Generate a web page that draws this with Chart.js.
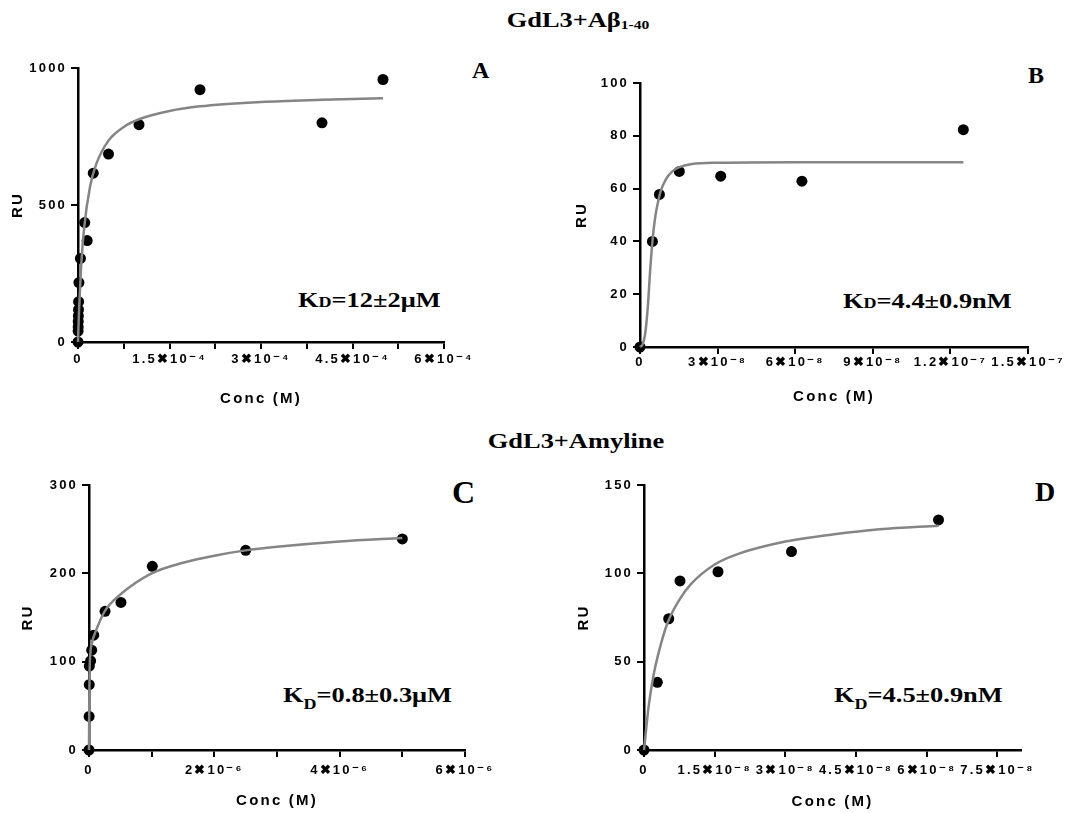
<!DOCTYPE html>
<html>
<head>
<meta charset="utf-8">
<script src="https://cdn.jsdelivr.net/npm/chart.js@4.4.1/dist/chart.umd.min.js"></script>
<style>
  body { margin:0; background:#fff; width:1089px; height:813px; position:relative; overflow:hidden; }
  .txt { position:absolute; font-family:"Liberation Serif","Times New Roman",serif; font-weight:bold; color:#000; white-space:nowrap; line-height:1; }
  .ttl { transform-origin:center; transform:translateX(-50%) scaleX(1.2); }
  .kd  { transform-origin:left; transform:scaleX(1.2); }
  .sub40 { font-size:13px; vertical-align:-2px; }
  .subA  { font-size:15px; vertical-align:0; }
  .subC  { font-size:15px; vertical-align:-7px; }
</style>
</head>
<body>

<div class="txt ttl" style="left:578px;top:8.6px;font-size:22px">GdL3+Aβ<span class="sub40">1-40</span></div>
<div class="txt ttl" style="left:576px;top:429.6px;font-size:22px">GdL3+Amyline</div>

<div class="txt" style="left:472px;top:57.9px;font-size:24px">A</div>
<div class="txt" style="left:1028px;top:62.9px;font-size:24px">B</div>
<div class="txt" style="left:452px;top:476px;font-size:32px">C</div>
<div class="txt" style="left:1035px;top:477.5px;font-size:28px">D</div>

<div class="txt kd" style="left:298px;top:288.6px;font-size:22px">K<span class="subA">D</span>=12±2μM</div>
<div class="txt kd" style="left:843px;top:289.6px;font-size:22px">K<span class="subA">D</span>=4.4±0.9nM</div>
<div class="txt kd" style="left:283px;top:683.6px;font-size:22px">K<span class="subC">D</span>=0.8±0.3μM</div>
<div class="txt kd" style="left:834px;top:683.6px;font-size:22px">K<span class="subC">D</span>=4.5±0.9nM</div>

<script>
// ── Data ──────────────────────────────────────────────────────
// A: GdL3 + Aβ1-40 (μM range)
const concA    = [0, 2e-7, 3e-7, 4e-7, 6e-7, 8e-7, 1e-6, 1.5e-6, 4e-6, 1.1e-5, 1.5e-5, 2.5e-5, 5e-5, 1e-4, 2e-4, 4e-4, 5e-4];
const ruA      = [0, 40, 55, 75, 95, 118, 147, 217, 305, 436, 370, 616, 686, 793, 921, 800, 958];
const fitConcA = [0, 1e-6, 2e-6, 5e-6, 1e-5, 2e-5, 3e-5, 5e-5, 7.5e-5, 1e-4, 1.5e-4, 2e-4, 3e-4, 4e-4, 5e-4];
const fitRuA   = [0, 70, 130, 270, 415, 570, 650, 735, 785, 813, 843, 860, 876, 884, 890];
const xTicksA  = [0, 0.75e-4, 1.5e-4, 2.25e-4, 3e-4, 3.75e-4, 4.5e-4, 5.25e-4, 6e-4];
const xLabelsA = ['0', '', '1.5✖10⁻⁴', '', '3✖10⁻⁴', '', '4.5✖10⁻⁴', '', '6✖10⁻⁴'];
const yTicksA  = [0, 500, 1000];

// B: GdL3 + Aβ1-40 (nM range)
const concB    = [0, 4.8e-9, 7.5e-9, 1.52e-8, 3.12e-8, 6.26e-8, 1.25e-7];
const ruB      = [0, 40.0, 57.8, 66.5, 64.7, 62.8, 82.3];
const fitConcB = [0, 1e-9, 2e-9, 3e-9, 4e-9, 5e-9, 6e-9, 7e-9, 8e-9, 1e-8, 1.25e-8, 1.5e-8, 2e-8, 3e-8, 6e-8, 1.25e-7];
const fitRuB   = [0, 1, 5, 15, 30, 42, 50, 55, 59, 63.5, 66.5, 68, 69.3, 69.8, 70, 70];
const xTicksB  = [0, 3e-8, 6e-8, 9e-8, 1.2e-7, 1.5e-7];
const xLabelsB = ['0', '3✖10⁻⁸', '6✖10⁻⁸', '9✖10⁻⁸', '1.2✖10⁻⁷', '1.5✖10⁻⁷'];
const yTicksB  = [0, 20, 40, 60, 80, 100];

// C: GdL3 + Amyline (μM range)
const concC    = [0, 2e-9, 4e-9, 5e-9, 2.6e-8, 4.3e-8, 7.5e-8, 2.56e-7, 5.1e-7, 1.01e-6, 2.5e-6, 5e-6];
const ruC      = [0, 38, 74, 95, 101, 113, 130, 157, 167, 208, 226, 239];
const fitConcC = [0, 5e-9, 1e-8, 2e-8, 5e-8, 1e-7, 2.5e-7, 5e-7, 1e-6, 1.5e-6, 2e-6, 2.5e-6, 3e-6, 4e-6, 5e-6];
const fitRuC   = [0, 60, 90, 108, 122, 133, 157, 176, 200, 212, 220, 226, 230, 236, 240];
const xTicksC  = [0, 1e-6, 2e-6, 3e-6, 4e-6, 5e-6, 6e-6];
const xLabelsC = ['0', '', '2✖10⁻⁶', '', '4✖10⁻⁶', '', '6✖10⁻⁶'];
const yTicksC  = [0, 100, 200, 300];

// D: GdL3 + Amyline (nM range)
const concD    = [0, 2.83e-9, 5.24e-9, 7.64e-9, 1.57e-8, 3.13e-8, 6.25e-8];
const ruD      = [0, 38.3, 74.3, 95.7, 100.9, 112.3, 130.2];
const fitConcD = [0, 1e-9, 2e-9, 3e-9, 5e-9, 7.5e-9, 1e-8, 1.5e-8, 2e-8, 3e-8, 4e-8, 5e-8, 6.25e-8];
const fitRuD   = [0, 25, 42, 54, 72, 85, 94, 105, 111, 118, 122, 125, 127];
const xTicksD  = [0, 1.5e-8, 3e-8, 4.5e-8, 6e-8, 7.5e-8];
const xLabelsD = ['0', '1.5✖10⁻⁸', '3✖10⁻⁸', '4.5✖10⁻⁸', '6✖10⁻⁸', '7.5✖10⁻⁸'];
const yTicksD  = [0, 50, 100, 150];

// ── Styling ───────────────────────────────────────────────────
const SANS       = "'Liberation Sans', Arial, sans-serif";
const TICK_FONT  = { family: SANS, size: 13, weight: 'bold' };
const AXIS_FONT  = { family: SANS, size: 15, weight: 'bold' };

// GraphPad-style widely spaced axis text
const spacing = {
  id: 'spacing',
  beforeLayout(chart) { chart.ctx.letterSpacing = '2.2px'; },
  beforeDraw(chart)   { chart.ctx.letterSpacing = '2.2px'; },
};

const pairs = (xs, ys) => xs.map((x, i) => ({ x, y: ys[i] }));

// ── One panel = one canvas; plot area pinned to page coords ──
function makePanel(p) {
  const lh        = AXIS_FONT.size * 1.2;
  const padLeft   = p.ruX - lh / 2 - p.box.left;
  const yWidth    = p.area.l - p.box.left - padLeft;
  const xHeight   = p.concY + lh / 2 - p.area.b;
  const padBottom = p.box.top + p.box.h - p.area.b - xHeight;

  const canvas = document.createElement('canvas');
  canvas.width  = p.box.w;
  canvas.height = p.box.h;
  Object.assign(canvas.style, { position: 'absolute', left: p.box.left + 'px', top: p.box.top + 'px' });
  document.body.appendChild(canvas);

  return new Chart(canvas.getContext('2d'), {
    type: 'scatter',
    data: {
      datasets: [
        {
          data: pairs(p.fitX, p.fitY),
          showLine: true, pointRadius: 0,
          borderColor: '#858585', borderWidth: 2.5,
          cubicInterpolationMode: 'monotone', clip: false,
        },
        {
          data: pairs(p.x, p.y),
          pointRadius: 5.5, backgroundColor: '#000', borderColor: '#000', borderWidth: 0,
          clip: false,
        },
      ],
    },
    options: {
      responsive: false, animation: false, events: [],
      layout: {
        padding: {
          left: padLeft,
          top: p.area.t - p.box.top,
          right: p.box.left + p.box.w - p.area.r,
          bottom: padBottom,
        },
      },
      plugins: { legend: { display: false }, tooltip: { enabled: false } },
      scales: {
        x: {
          type: 'linear', min: 0, max: p.xMax,
          afterBuildTicks: s => { s.ticks = p.xTicks.map(v => ({ value: v })); },
          afterFit: s => { s.height = xHeight; },
          ticks: { callback: (v, i) => p.xLabels[i], font: TICK_FONT, color: '#000',
                   padding: p.xPad, autoSkip: false, maxRotation: 0 },
          grid:   { drawOnChartArea: false, color: '#000', lineWidth: 2, tickLength: 7 },
          border: { color: '#000', width: 2.5 },
          title:  { display: true, text: 'Conc (M)', font: AXIS_FONT, color: '#000', padding: 0 },
        },
        y: {
          type: 'linear', min: 0, max: p.yTicks[p.yTicks.length - 1],
          afterBuildTicks: s => { s.ticks = p.yTicks.map(v => ({ value: v })); },
          afterFit: s => { s.width = yWidth; },
          ticks: { callback: v => String(v), font: TICK_FONT, color: '#000', padding: 4 },
          grid:   { drawOnChartArea: false, color: '#000', lineWidth: 2, tickLength: 7 },
          border: { color: '#000', width: 2.5 },
          title:  { display: true, text: 'RU', font: AXIS_FONT, color: '#000', padding: 0 },
        },
      },
    },
    plugins: [spacing],
  });
}

makePanel({
  box: { left: 0, top: 40, w: 540, h: 375 }, area: { l: 78, t: 68, r: 444, b: 342 },
  ruX: 18, concY: 399, xPad: 3,
  x: concA, y: ruA, fitX: fitConcA, fitY: fitRuA,
  xMax: 6e-4, xTicks: xTicksA, xLabels: xLabelsA, yTicks: yTicksA,
});
makePanel({
  box: { left: 545, top: 40, w: 544, h: 375 }, area: { l: 640, t: 83, r: 1028, b: 347 },
  ruX: 582, concY: 397, xPad: 1,
  x: concB, y: ruB, fitX: fitConcB, fitY: fitRuB,
  xMax: 1.5e-7, xTicks: xTicksB, xLabels: xLabelsB, yTicks: yTicksB,
});
makePanel({
  box: { left: 0, top: 450, w: 540, h: 363 }, area: { l: 89, t: 485, r: 465, b: 750 },
  ruX: 28, concY: 801, xPad: 6,
  x: concC, y: ruC, fitX: fitConcC, fitY: fitRuC,
  xMax: 6e-6, xTicks: xTicksC, xLabels: xLabelsC, yTicks: yTicksC,
});
makePanel({
  box: { left: 545, top: 450, w: 544, h: 363 }, area: { l: 644, t: 485, r: 1021, b: 750 },
  ruX: 584, concY: 802, xPad: 6,
  x: concD, y: ruD, fitX: fitConcD, fitY: fitRuD,
  xMax: 8e-8, xTicks: xTicksD, xLabels: xLabelsD, yTicks: yTicksD,
});
</script>
</body>
</html>
